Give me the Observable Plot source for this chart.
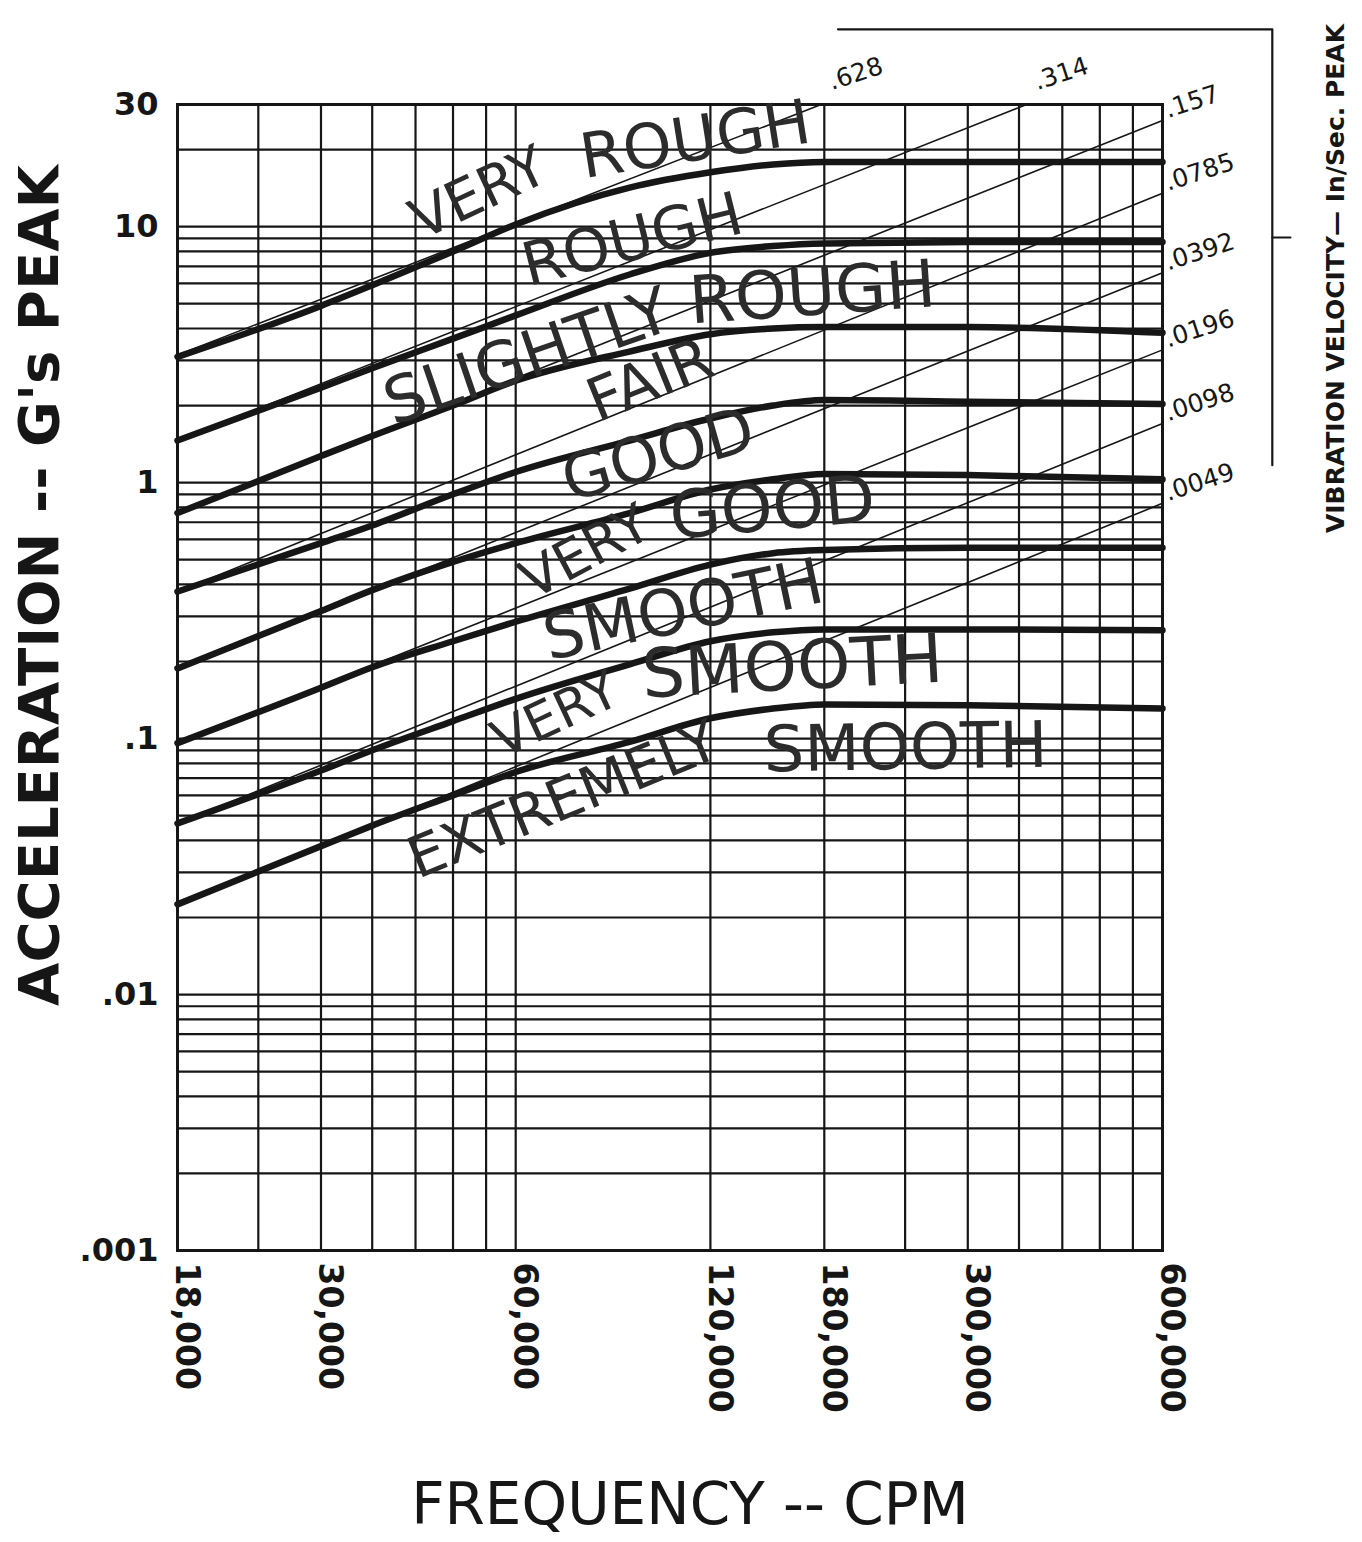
<!DOCTYPE html>
<html>
<head>
<meta charset="utf-8">
<script src="https://cdn.jsdelivr.net/npm/d3@7"></script>
<script src="https://cdn.jsdelivr.net/npm/@observablehq/plot@0.6"></script>
<style>
  html, body { margin: 0; padding: 0; background: #ffffff; }
  #chart { width: 1362px; height: 1542px; }
  g[aria-label="ytitle"] text { letter-spacing: 2px; }
  g[aria-label="xtitle"] text { letter-spacing: 1px; }
  g[aria-label="vtitle"] text { letter-spacing: 5.6px; }
  g[aria-label="xticklabels"] text { letter-spacing: 2.5px; }
  g[aria-label="zonelabels"] text { letter-spacing: 2px; }
</style>
</head>
<body>
<div id="chart"></div>
<script>
// ---------------- data ----------------
// vertical grid lines (CPM)
const freqGrid = [18000, 24000, 30000, 36000, 42000, 48000, 54000, 60000,
  120000, 180000, 240000, 300000, 360000, 420000, 480000, 540000, 600000];
const xTicks = [18000, 30000, 60000, 120000, 180000, 300000, 600000];
const xTickLabels = ["18,000", "30,000", "60,000", "120,000", "180,000", "300,000", "600,000"];
const yTicks = [0.001, 0.01, 0.1, 1, 10, 30];
const yTickLabels = [".001", ".01", ".1", "1", "10", "30"];

// severity boundary curves (acceleration, g's peak) sampled at these frequencies
const curveCpm = [18000, 30000, 36000, 48000, 60000, 90000, 120000, 150000, 180000, 300000, 600000];
const boundary1 = [3.1, 4.9, 5.9, 8.0, 10.2, 14.2, 16.3, 17.5, 17.9, 17.9, 17.9];
const boundary2 = [1.46, 2.35, 2.8, 3.65, 4.5, 6.5, 7.9, 8.4, 8.6, 8.7, 8.7];
const boundary3 = [0.76, 1.27, 1.52, 2.0, 2.5, 3.25, 3.8, 4.0, 4.05, 4.05, 3.85];
const boundary4 = [0.375, 0.58, 0.68, 0.9, 1.1, 1.46, 1.78, 2.0, 2.1, 2.07, 2.03];
const boundary5 = [0.188, 0.315, 0.38, 0.49, 0.58, 0.76, 0.94, 1.03, 1.08, 1.07, 1.03];
const boundary6 = [0.096, 0.158, 0.19, 0.24, 0.286, 0.385, 0.478, 0.53, 0.545, 0.557, 0.557];
const boundary7 = [0.0466, 0.075, 0.09, 0.117, 0.143, 0.195, 0.24, 0.26, 0.267, 0.267, 0.265];
const boundary8 = [0.0225, 0.038, 0.0457, 0.06, 0.074, 0.097, 0.12, 0.131, 0.136, 0.135, 0.131];
const boundaries = [boundary1, boundary2, boundary3, boundary4, boundary5, boundary6, boundary7, boundary8];

// constant-velocity lines (in/sec peak)
const velLabels = [".628", ".314", ".157", ".0785", ".0392", ".0196", ".0098", ".0049"];
const velStartCpm = [18000, 18000, 18000, 18000, 18000, 18000, 18000, 18000];
const velStartG = [3.15, 1.46, 0.76, 0.375, 0.188, 0.096, 0.0466, 0.0225];
const velEndCpm = [178000, 370000, 600000, 600000, 600000, 600000, 600000, 600000];
const velEndG = [30, 30, 26, 13.5, 6.6, 3.3, 1.7, 0.83];

// zone labels
const zoneText = ["VERY", "ROUGH", "ROUGH", "SLIGHTLY", "ROUGH", "FAIR", "GOOD",
  "VERY", "GOOD", "SMOOTH", "VERY", "SMOOTH", "EXTREMELY", "SMOOTH"];
const zoneCpm = [52600, 113800, 90900, 62600, 172600, 96900, 99700,
  76900, 149700, 109000, 69100, 160700, 71100, 240400];
const zoneG = [13.45, 21.7, 8.82, 3.08, 5.47, 2.50, 1.275,
  0.533, 0.791, 0.316, 0.123, 0.189, 0.0573, 0.0914];
const zoneAngle = [-25, -9, -14, -19, -4, -22, -16, -28, -5, -12, -25, -3, -22, -1];
const zoneSize = [56, 62, 60, 64, 66, 60, 63, 54, 66, 64, 52, 68, 57, 64];

// velocity scale bracket (outside the frame)
const bracketCpm = [189000, 887000, 887000];
const bracketG = [59, 59, 1.17];
const bracketTickCpm = [887000, 946000];
const bracketTickG = [9.07, 9.07];

// ---------------- tables ----------------
const curveRows = [];
boundaries.forEach((vals, k) => vals.forEach((g, i) => curveRows.push({cpm: curveCpm[i], g, curve: k})));
const velRows = [];
velLabels.forEach((lab, k) => {
  velRows.push({cpm: velStartCpm[k], g: velStartG[k], v: k});
  velRows.push({cpm: velEndCpm[k], g: velEndG[k], v: k});
});
const velEnds = velLabels.map((lab, k) => ({cpm: velEndCpm[k], g: velEndG[k], label: lab, top: velEndG[k] >= 30}));
const zoneRows = zoneText.map((t, i) => ({text: t, cpm: zoneCpm[i], g: zoneG[i], a: zoneAngle[i], s: zoneSize[i]}));
const bracketRows = bracketCpm.map((c, i) => ({cpm: c, g: bracketG[i]}));
const bracketTickRows = bracketTickCpm.map((c, i) => ({cpm: c, g: bracketTickG[i]}));
const yTickRows = yTicks.map((v, i) => ({g: v, label: yTickLabels[i]}));
const xTickRows = xTicks.map((v, i) => ({cpm: v, label: xTickLabels[i]}));

const ink = "#161616";
const font = "DejaVu Sans";

const svg = Plot.plot({
  width: 1362,
  height: 1542,
  marginLeft: 177,
  marginRight: 200,
  marginTop: 104,
  marginBottom: 292,
  style: {background: "#ffffff", color: ink, fontFamily: font, overflow: "visible"},
  x: {type: "log", domain: [18000, 600000], axis: null, label: null},
  y: {type: "log", domain: [0.001, 30], axis: null, label: null},
  marks: [
    Plot.ruleY(d3.scaleLog().domain([0.001, 30]).ticks(60), {stroke: ink, strokeWidth: 2.2}),
    Plot.ruleX(freqGrid, {stroke: ink, strokeWidth: 2.2}),
    Plot.line(velRows, {x: "cpm", y: "g", z: "v", stroke: ink, strokeWidth: 1.6}),
    Plot.line(curveRows, {x: "cpm", y: "g", z: "curve", stroke: ink, strokeWidth: 6.5, curve: "monotone-x", strokeLinecap: "round"}),
    Plot.frame({stroke: ink, strokeWidth: 3}),
    // zone labels
    Plot.text(zoneRows, {x: "cpm", y: "g", text: "text", rotate: "a", fontSize: "s", fill: "#2c2c2c",
      textAnchor: "middle", lineAnchor: "middle", fontFamily: font, ariaLabel: "zonelabels"}),
    // velocity labels
    Plot.text(velEnds.filter(d => d.top), {x: "cpm", y: "g", text: "label", textAnchor: "start",
      dx: 8, dy: -22, rotate: -18, fontSize: 25, fill: ink}),
    Plot.text(velEnds.filter(d => !d.top), {x: "cpm", y: "g", text: "label", textAnchor: "start",
      dx: 3, dy: -10, rotate: -18, fontSize: 25, fill: ink}),
    // bracket for velocity scale
    Plot.line(bracketRows, {x: "cpm", y: "g", stroke: ink, strokeWidth: 2.2, clip: false}),
    Plot.line(bracketTickRows, {x: "cpm", y: "g", stroke: ink, strokeWidth: 2.2, clip: false}),
    // y tick labels
    Plot.text(yTickRows, {y: "g", text: "label", frameAnchor: "left", textAnchor: "end", dx: -19,
      fontSize: 32, fontWeight: "bold", fill: ink}),
    // x tick labels (rotated)
    Plot.text(xTickRows, {x: "cpm", text: "label", frameAnchor: "bottom", textAnchor: "start", lineAnchor: "middle",
      dx: 9, dy: 12, rotate: 90, fontSize: 33, fontWeight: "bold", fill: ink, ariaLabel: "xticklabels"}),
    // titles
    Plot.text(["ACCELERATION -- G's PEAK"], {frameAnchor: "left", textAnchor: "middle", lineAnchor: "middle",
      dx: -137, dy: -92, rotate: -90, fontSize: 56, fontWeight: "bold", fill: ink, ariaLabel: "ytitle"}),
    Plot.text(["FREQUENCY -- CPM"], {frameAnchor: "bottom", textAnchor: "middle", lineAnchor: "middle",
      dx: 20, dy: 255, fontSize: 58, fill: ink, ariaLabel: "xtitle"}),
    Plot.text(["VIBRATION VELOCITY\u2014 In/Sec. PEAK"], {frameAnchor: "top-right", textAnchor: "middle", lineAnchor: "middle",
      dx: 173, dy: 174, rotate: -90, fontSize: 25, fontWeight: "bold", fill: ink, ariaLabel: "vtitle"})
  ]
});
document.getElementById("chart").append(svg);
</script>
</body>
</html>
